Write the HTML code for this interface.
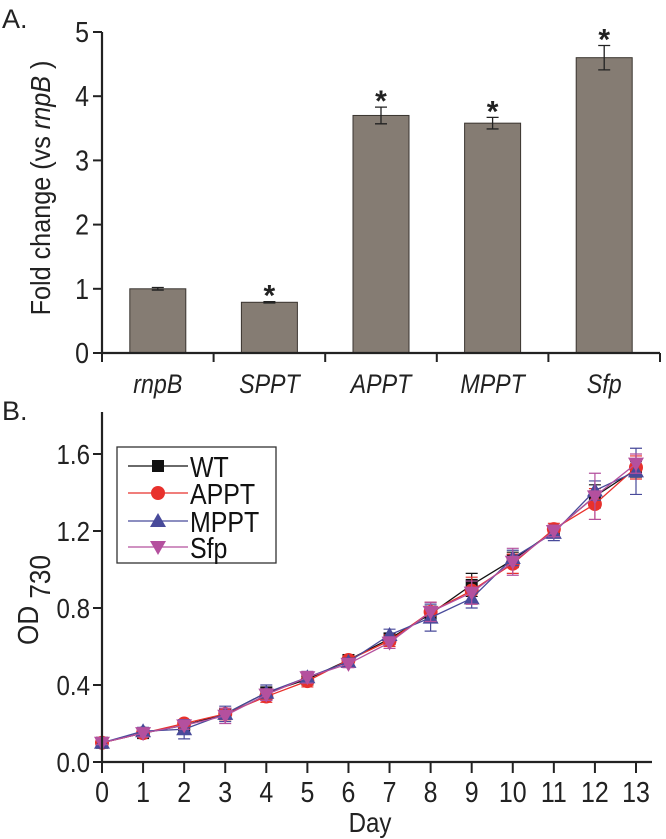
<!DOCTYPE html>
<html><head><meta charset="utf-8"><style>
html,body{margin:0;padding:0;background:#fff;}
svg{display:block;font-family:"Liberation Sans",sans-serif;}
</style></head><body>
<svg id="fig" width="666" height="839" viewBox="0 0 666 839">
<text x="2" y="28" font-size="27" fill="#222">A.</text>
<text x="2" y="420" font-size="27" fill="#222">B.</text>
<g id="barChart"></g>
<g id="lineChart"></g>
</svg>
<script>
const barCats = ["rnpB","SPPT","APPT","MPPT","Sfp"];
const barVals = [1.0,0.79,3.7,3.58,4.6];
const barErrs = [0.02,0.01,0.13,0.09,0.19];
const barSig = [false,true,true,true,true];
const barTicks = [0,1,2,3,4,5];

const days = [0,1,2,3,4,5,6,7,8,9,10,11,12,13];
const dayTicks = ["0","1","2","3","4","5","6","7","8","9","10","11","12","13"];
const odTicks = [0.0,0.4,0.8,1.2,1.6];
const wtVals = [0.10,0.15,0.19,0.25,0.36,0.43,0.53,0.64,0.77,0.92,1.05,1.20,1.38,1.52];
const apptVals = [0.10,0.15,0.20,0.25,0.34,0.42,0.53,0.63,0.78,0.89,1.03,1.21,1.34,1.53];
const mpptVals = [0.10,0.16,0.17,0.25,0.36,0.44,0.52,0.66,0.75,0.85,1.06,1.19,1.41,1.51];
const sfpVals = [0.10,0.15,0.19,0.24,0.35,0.44,0.51,0.62,0.78,0.88,1.04,1.20,1.38,1.55];
const wtErr = [0.01,0.02,0.02,0.03,0.03,0.03,0.02,0.03,0.04,0.06,0.04,0.03,0.06,0.04];
const apptErr = [0.01,0.02,0.02,0.03,0.03,0.03,0.02,0.03,0.05,0.07,0.05,0.03,0.08,0.06];
const mpptErr = [0.01,0.02,0.05,0.04,0.04,0.03,0.02,0.03,0.07,0.05,0.04,0.04,0.05,0.12];
const sfpErr = [0.01,0.02,0.02,0.04,0.03,0.03,0.02,0.03,0.05,0.06,0.07,0.03,0.12,0.05];

const NS="http://www.w3.org/2000/svg";
function mk(parent,tag,attrs,text){const e=document.createElementNS(NS,tag);for(const k in attrs)e.setAttribute(k,attrs[k]);if(text!==undefined)e.textContent=text;parent.appendChild(e);return e;}
const cond='scale(0.86,1)';

// ---- Bar chart ----
const bg=document.getElementById('barChart');
const bx0=102,bx1=660,by0=353,by5=32;
const byS=v=>by0-(by0-by5)*v/5;
const catW=(bx1-bx0)/barCats.length;
const bxC=i=>bx0+catW*(i+0.5);
barVals.forEach((v,i)=>{
  const r=mk(bg,'rect',{x:bxC(i)-28,y:byS(v),width:56,height:by0-byS(v),fill:'#857c73',stroke:'#3a3530','stroke-width':1});
  
  
  const e=barErrs[i],cx=bxC(i);
  const eb=mk(bg,'path',{d:`M${cx} ${byS(v+e)}V${byS(v-e)}M${cx-6} ${byS(v+e)}H${cx+6}M${cx-6} ${byS(v-e)}H${cx+6}`,stroke:'#222','stroke-width':1.3,fill:'none'});
  
  
  if(barSig[i]){
    const s=mk(bg,'text',{x:cx,y:byS(v+e)+4,'font-size':30,'font-weight':'bold','text-anchor':'middle',fill:'#222'},'*');
    
    
  }
  const t=mk(bg,'text',{transform:`translate(${cx},393) ${cond}`,'font-size':27,'font-style':'italic','text-anchor':'middle',fill:'#222'},barCats[i]);
  
  
});
const bax=mk(bg,'path',{d:`M${bx0} ${by5}V${by0}H${bx1}`,stroke:'#222','stroke-width':2.2,fill:'none'});


barTicks.forEach(v=>{
  mk(bg,'line',{x1:bx0-9,x2:bx0,y1:byS(v),y2:byS(v),stroke:'#222','stroke-width':2});
  const t=mk(bg,'text',{transform:`translate(${bx0-13},${byS(v)+10}) ${cond}`,'font-size':29,'text-anchor':'end',fill:'#222'},String(v));
  
  
});
for(let i=0;i<=barCats.length;i++){const x=bx0+catW*i;mk(bg,'line',{x1:x,x2:x,y1:by0,y2:by0+9,stroke:'#222','stroke-width':2});}
const byt=mk(bg,'text',{transform:'translate(50,188) rotate(-90) scale(0.9,1)','font-size':28,'text-anchor':'middle',fill:'#222'});


mk(byt,'tspan',{},'Fold change  (vs ');mk(byt,'tspan',{'font-style':'italic'},'rnpB');mk(byt,'tspan',{},' )');

// ---- Line chart ----
const lg=document.getElementById('lineChart');
const lx0=102,lx13=636,lxEnd=652,ly0=762,ly16=454,lyTop=412;
const lxS=d=>lx0+(lx13-lx0)*d/13;
const lyS=v=>ly0-(ly0-ly16)*v/1.6;
const series=[
 {name:'WT',vals:wtVals,err:wtErr,color:'#111',marker:'square'},
 {name:'APPT',vals:apptVals,err:apptErr,color:'#e8312c',marker:'circle'},
 {name:'MPPT',vals:mpptVals,err:mpptErr,color:'#484a9a',marker:'up'},
 {name:'Sfp',vals:sfpVals,err:sfpErr,color:'#b4509e',marker:'down'}
];
function marker(g,type,x,y,color){
  let e;
  if(type==='square')e=mk(g,'rect',{x:x-6,y:y-6,width:12,height:12,fill:color});
  else if(type==='circle')e=mk(g,'circle',{cx:x,cy:y,r:7,fill:color});
  else if(type==='up')e=mk(g,'path',{d:`M${x} ${y-8}L${x+8} ${y+6}L${x-8} ${y+6}Z`,fill:color});
  else e=mk(g,'path',{d:`M${x} ${y+8}L${x+8} ${y-6}L${x-8} ${y-6}Z`,fill:color});
  return e;
}
series.forEach(s=>{
  const g=mk(lg,'g',{});
  
  
  s.vals.forEach((v,i)=>{
    const x=lxS(days[i]),e=s.err[i];
    mk(g,'path',{d:`M${x} ${lyS(v+e)}V${lyS(v-e)}M${x-6} ${lyS(v+e)}H${x+6}M${x-6} ${lyS(v-e)}H${x+6}`,stroke:s.color,'stroke-width':1.2,fill:'none'});
  });
  mk(g,'polyline',{points:s.vals.map((v,i)=>lxS(days[i])+','+lyS(v)).join(' '),stroke:s.color,'stroke-width':1.3,fill:'none'});
  s.vals.forEach((v,i)=>{
    const m=marker(g,s.marker,lxS(days[i]),lyS(v),s.color);
    
    
  });
});
const lax=mk(lg,'path',{d:`M${lx0} ${lyTop}V${ly0}H${lxEnd}`,stroke:'#222','stroke-width':2.2,fill:'none'});


odTicks.forEach(v=>{
  mk(lg,'line',{x1:lx0-9,x2:lx0,y1:lyS(v),y2:lyS(v),stroke:'#222','stroke-width':2});
  const t=mk(lg,'text',{transform:`translate(${lx0-12},${lyS(v)+10}) ${cond}`,'font-size':28,'text-anchor':'end',fill:'#222'},v.toFixed(1));
  
  
});
days.forEach((d,i)=>{
  mk(lg,'line',{x1:lxS(d),x2:lxS(d),y1:ly0,y2:ly0+11,stroke:'#222','stroke-width':2});
  const t=mk(lg,'text',{transform:`translate(${lxS(d)},802) ${cond}`,'font-size':29,'text-anchor':'middle',fill:'#222'},dayTicks[i]);
  
  
});
const xt=mk(lg,'text',{transform:`translate(370,832) ${cond}`,'font-size':28,'text-anchor':'middle',fill:'#222'},'Day');


const yt=mk(lg,'text',{transform:'translate(38,600) rotate(-90) scale(0.9,1)','font-size':29,'text-anchor':'middle',fill:'#222'});


mk(yt,'tspan',{},'OD ');mk(yt,'tspan',{dy:12},'730');
// legend
const leg=mk(lg,'g',{});


mk(leg,'rect',{x:117,y:447,width:159,height:116,fill:'#fff',stroke:'#333','stroke-width':1.3});
const legY=[466,493,521,547];
series.forEach((s,i)=>{
  const eg=mk(leg,'g',{});
  
  
  mk(eg,'line',{x1:128,x2:188,y1:legY[i],y2:legY[i],stroke:s.color,'stroke-width':1.3});
  marker(eg,s.marker,158,legY[i],s.color);
  mk(eg,'text',{transform:`translate(190,${legY[i]+11}) scale(0.86,1)`,'font-size':29,fill:'#111'},s.name);
});
</script>
</body></html>
